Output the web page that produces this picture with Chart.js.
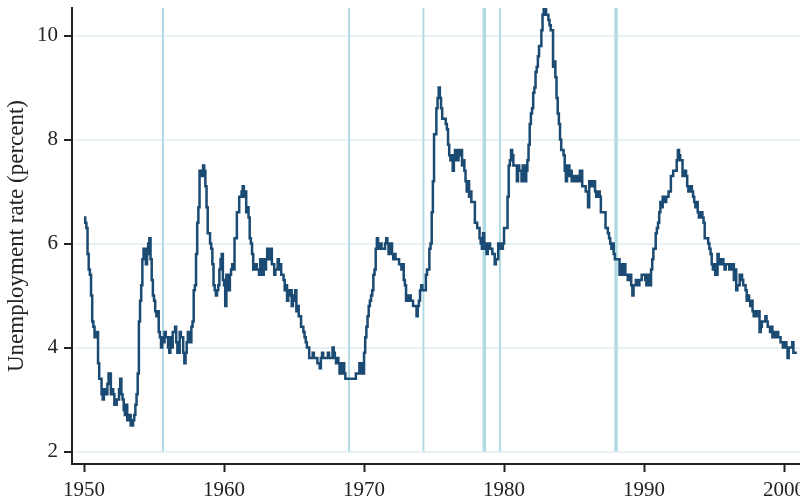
<!DOCTYPE html>
<html>
<head>
<meta charset="utf-8">
<script src="https://cdn.jsdelivr.net/npm/chart.js@4.4.1/dist/chart.umd.min.js"></script>
<style>
  html, body { margin: 0; padding: 0; background: #fff; }
  #wrap { width: 800px; height: 502px; }
</style>
</head>
<body>
<div id="wrap"><canvas id="chart" width="800" height="502"></canvas></div>
<script>
// ============================
// DATA (monthly unemployment rate, percent)
// ============================
const startYear = 1950;

const rate1950s = [
  6.5, 6.4, 6.3, 5.8, 5.5, 5.4, 5.0, 4.5, 4.4, 4.2, 4.2, 4.3,
  3.7, 3.4, 3.4, 3.1, 3.0, 3.2, 3.1, 3.1, 3.3, 3.5, 3.5, 3.1,
  3.2, 3.1, 2.9, 2.9, 3.0, 3.0, 3.2, 3.4, 3.1, 3.0, 2.8, 2.7,
  2.9, 2.6, 2.6, 2.7, 2.5, 2.5, 2.6, 2.7, 2.9, 3.1, 3.5, 4.5,
  4.9, 5.2, 5.7, 5.9, 5.9, 5.6, 5.8, 6.0, 6.1, 5.7, 5.3, 5.0,
  4.9, 4.7, 4.6, 4.7, 4.3, 4.2, 4.0, 4.2, 4.1, 4.3, 4.2, 4.2,
  4.0, 3.9, 4.2, 4.0, 4.3, 4.3, 4.4, 4.1, 3.9, 3.9, 4.3, 4.2,
  4.2, 3.9, 3.7, 3.9, 4.1, 4.3, 4.2, 4.1, 4.4, 4.5, 5.1, 5.2,
  5.8, 6.4, 6.7, 7.4, 7.4, 7.3, 7.5, 7.4, 7.1, 6.7, 6.2, 6.2,
  6.0, 5.9, 5.6, 5.2, 5.1, 5.0, 5.1, 5.2, 5.5, 5.7, 5.8, 5.3
];
const rate1960s = [
  5.2, 4.8, 5.4, 5.2, 5.1, 5.4, 5.5, 5.6, 5.5, 6.1, 6.1, 6.6,
  6.6, 6.9, 6.9, 7.0, 7.1, 6.9, 7.0, 6.6, 6.7, 6.5, 6.1, 6.0,
  5.8, 5.5, 5.6, 5.6, 5.5, 5.5, 5.4, 5.7, 5.6, 5.4, 5.7, 5.5,
  5.7, 5.9, 5.7, 5.7, 5.9, 5.6, 5.6, 5.4, 5.5, 5.5, 5.7, 5.5,
  5.6, 5.4, 5.4, 5.3, 5.1, 5.2, 4.9, 5.0, 5.1, 5.1, 4.8, 5.0,
  4.9, 5.1, 4.7, 4.8, 4.6, 4.6, 4.4, 4.4, 4.3, 4.2, 4.1, 4.0,
  4.0, 3.8, 3.8, 3.8, 3.9, 3.8, 3.8, 3.8, 3.7, 3.7, 3.6, 3.8,
  3.9, 3.8, 3.8, 3.8, 3.8, 3.9, 3.8, 3.8, 3.8, 4.0, 3.9, 3.8,
  3.7, 3.8, 3.7, 3.5, 3.5, 3.7, 3.7, 3.5, 3.4, 3.4, 3.4, 3.4,
  3.4, 3.4, 3.4, 3.4, 3.4, 3.5, 3.5, 3.5, 3.7, 3.7, 3.5, 3.5
];
const rate1970s = [
  3.9, 4.2, 4.4, 4.6, 4.8, 4.9, 5.0, 5.1, 5.4, 5.5, 5.9, 6.1,
  5.9, 5.9, 6.0, 5.9, 5.9, 5.9, 6.0, 6.1, 6.0, 5.8, 6.0, 6.0,
  5.8, 5.7, 5.8, 5.7, 5.7, 5.7, 5.6, 5.6, 5.5, 5.6, 5.3, 5.2,
  4.9, 5.0, 4.9, 5.0, 4.9, 4.9, 4.8, 4.8, 4.8, 4.6, 4.8, 4.9,
  5.1, 5.2, 5.1, 5.1, 5.1, 5.4, 5.5, 5.5, 5.9, 6.0, 6.6, 7.2,
  8.1, 8.1, 8.6, 8.8, 9.0, 8.8, 8.6, 8.4, 8.4, 8.4, 8.3, 8.2,
  7.9, 7.7, 7.6, 7.7, 7.4, 7.6, 7.8, 7.8, 7.6, 7.7, 7.8, 7.8,
  7.5, 7.6, 7.4, 7.2, 7.0, 7.2, 6.9, 7.0, 6.8, 6.8, 6.8, 6.4,
  6.4, 6.3, 6.3, 6.1, 6.0, 5.9, 6.2, 5.9, 6.0, 5.8, 5.9, 6.0,
  5.9, 5.9, 5.8, 5.8, 5.6, 5.7, 5.7, 6.0, 5.9, 6.0, 5.9, 6.0
];
const rate1980s = [
  6.3, 6.3, 6.3, 6.9, 7.5, 7.6, 7.8, 7.7, 7.5, 7.5, 7.5, 7.2,
  7.5, 7.4, 7.4, 7.2, 7.5, 7.5, 7.2, 7.4, 7.6, 7.9, 8.3, 8.5,
  8.6, 8.9, 9.0, 9.3, 9.4, 9.6, 9.8, 9.8, 10.1, 10.4, 10.8, 10.8,
  10.4, 10.4, 10.3, 10.2, 10.1, 10.1, 9.4, 9.5, 9.2, 8.8, 8.5, 8.3,
  8.0, 7.8, 7.8, 7.7, 7.4, 7.2, 7.5, 7.5, 7.3, 7.4, 7.2, 7.3,
  7.3, 7.2, 7.2, 7.3, 7.2, 7.4, 7.4, 7.1, 7.1, 7.1, 7.0, 7.0,
  6.7, 7.2, 7.2, 7.1, 7.2, 7.2, 7.0, 6.9, 7.0, 7.0, 6.9, 6.6,
  6.6, 6.6, 6.6, 6.3, 6.3, 6.2, 6.1, 6.0, 5.9, 6.0, 5.8, 5.7,
  5.7, 5.7, 5.7, 5.4, 5.6, 5.4, 5.4, 5.6, 5.4, 5.4, 5.3, 5.3,
  5.4, 5.2, 5.0, 5.2, 5.2, 5.3, 5.2, 5.2, 5.3, 5.3, 5.4, 5.4
];
const rate1990s = [
  5.4, 5.3, 5.2, 5.4, 5.4, 5.2, 5.5, 5.7, 5.9, 5.9, 6.2, 6.3,
  6.4, 6.6, 6.8, 6.7, 6.9, 6.9, 6.8, 6.9, 6.9, 7.0, 7.0, 7.3,
  7.3, 7.4, 7.4, 7.4, 7.6, 7.8, 7.7, 7.6, 7.6, 7.3, 7.4, 7.4,
  7.3, 7.1, 7.0, 7.1, 7.1, 7.0, 6.9, 6.8, 6.7, 6.8, 6.6, 6.5,
  6.6, 6.6, 6.5, 6.4, 6.1, 6.1, 6.1, 6.0, 5.9, 5.8, 5.6, 5.5,
  5.6, 5.4, 5.4, 5.8, 5.6, 5.6, 5.7, 5.7, 5.6, 5.5, 5.6, 5.6,
  5.6, 5.5, 5.5, 5.6, 5.6, 5.3, 5.5, 5.1, 5.2, 5.2, 5.4, 5.4,
  5.3, 5.2, 5.2, 5.1, 4.9, 5.0, 4.9, 4.8, 4.9, 4.7, 4.6, 4.7,
  4.6, 4.6, 4.7, 4.3, 4.4, 4.5, 4.5, 4.5, 4.6, 4.5, 4.4, 4.4,
  4.3, 4.4, 4.2, 4.3, 4.2, 4.3, 4.3, 4.2, 4.2, 4.1, 4.1, 4.0
];
const rate2000 = [4.0, 4.1, 4.0, 3.8, 4.0, 4.0, 4.0, 4.1, 3.9, 3.9, 3.9, 3.9];

// dates of the vertical marker lines (decimal years)
const eventYears = [1955.64, 1968.93, 1974.24, 1978.59, 1979.71, 1988.0];
const eventWide  = [false, false, false, true, false, true];

const xTicks = [1950, 1960, 1970, 1980, 1990, 2000];
const yTicks = [2, 4, 6, 8, 10];

// ============================
// CHART
// ============================
const X_MIN = 1949.14, X_MAX = 2001.14;
const Y_MIN = 1.76, Y_MAX = 10.53;
const serif = "'Liberation Serif', 'Times New Roman', serif";
const ink = "#222";

const allRates = [].concat(rate1950s, rate1960s, rate1970s, rate1980s, rate1990s, rate2000);
const ratePoints = allRates.map((v, i) => ({ x: startYear + i / 12, y: v }));

const eventSets = eventYears.map((yr, i) => ({
  data: [{ x: yr, y: 2 }, { x: yr, y: Y_MAX }],
  borderColor: "#b0dbe5",
  borderWidth: eventWide[i] ? 3.5 : 2,
  pointRadius: 0,
  order: 2,
}));

// kill the label-overflow padding chart.js adds around the plot
function noPad(s) {
  s.paddingLeft = 0; s.paddingRight = 0; s.paddingTop = 0; s.paddingBottom = 0;
}

new Chart(document.getElementById("chart"), {
  type: "line",
  data: {
    datasets: [
      {
        data: ratePoints,
        borderColor: "#1b4a72",
        borderWidth: 2.5,
        pointRadius: 0,
        stepped: true,
        order: 0,
        clip: 0,
      },
      ...eventSets,
    ],
  },
  options: {
    responsive: false,
    animation: false,
    layout: { padding: { top: 8, left: 0, right: 0, bottom: 0 } },
    plugins: { legend: { display: false }, tooltip: { enabled: false } },
    scales: {
      x: {
        type: "linear",
        min: X_MIN,
        max: X_MAX,
        afterFit: (s) => { s.height = 38; noPad(s); },
        afterBuildTicks: (s) => { s.ticks = xTicks.map((v) => ({ value: v })); },
        grid: { drawOnChartArea: false, tickColor: ink, tickLength: 8, tickWidth: 2 },
        border: { color: ink, width: 2 },
        ticks: { font: { family: serif, size: 21 }, color: ink, padding: 6, maxRotation: 0, callback: (v) => String(v) },
      },
      y: {
        min: Y_MIN,
        max: Y_MAX,
        afterFit: (s) => { s.width = 72; noPad(s); },
        afterBuildTicks: (s) => { s.ticks = yTicks.map((v) => ({ value: v })); },
        grid: { color: "#e7f0f2", lineWidth: 2, tickColor: ink, tickLength: 8, tickWidth: 2 },
        border: { color: ink, width: 2 },
        ticks: { font: { family: serif, size: 21 }, color: ink, padding: 6, callback: (v) => String(v) },
        title: {
          display: true,
          text: "Unemployment rate (percent)",
          font: { family: serif, size: 23 },
          color: ink,
          padding: { top: 3, bottom: 0 },
        },
      },
    },
  },
});
</script>
</body>
</html>
